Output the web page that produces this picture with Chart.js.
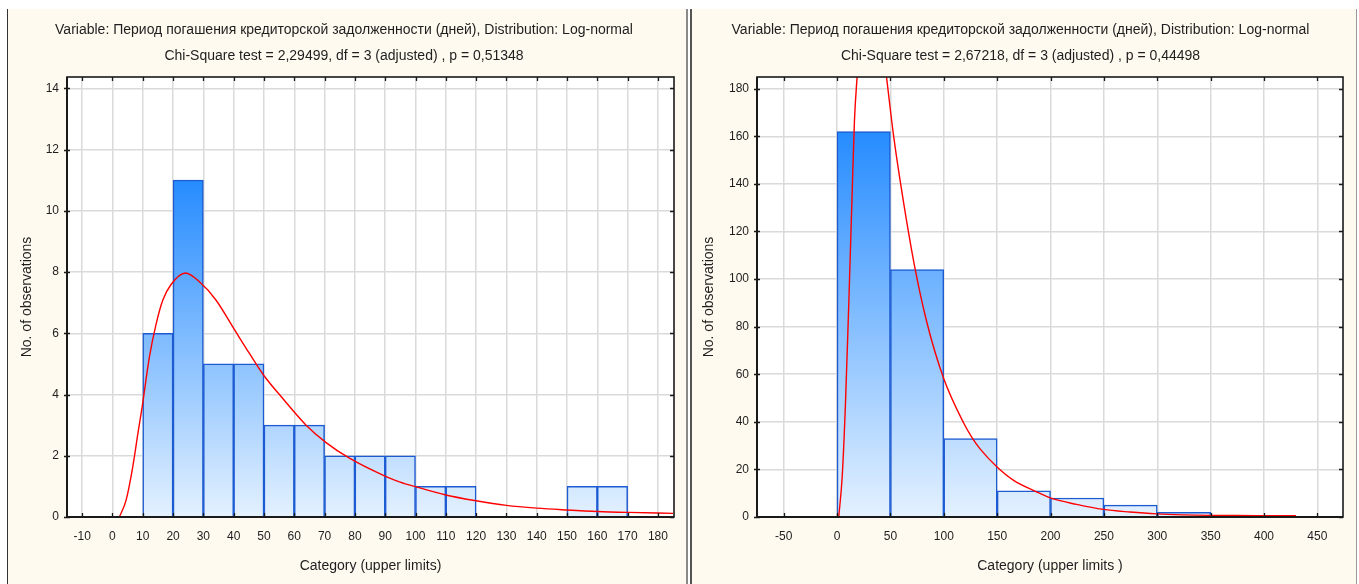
<!DOCTYPE html>
<html><head><meta charset="utf-8">
<script src="https://cdn.jsdelivr.net/npm/chart.js@4.4.1/dist/chart.umd.min.js"></script>
<style>
body{margin:0;background:#fff;width:1359px;height:584px;overflow:hidden;position:relative;font-family:'Liberation Sans',Arial,sans-serif}
.panel{position:absolute;top:9px;height:575px;background:#fffaf0;box-sizing:border-box}
#p1{left:7px;width:681px;border-left:1px solid #333;border-right:2px solid #8a8a8a}
#p2{left:690px;width:667px;border-left:2px solid #555;border-right:1px solid #999}
canvas{display:block}
</style></head><body>
<div class="panel" id="p1"><canvas id="c1" width="678" height="575"></canvas></div>
<div class="panel" id="p2"><canvas id="c2" width="664" height="575"></canvas></div>
<script>
// ---------- data: left chart ----------
const leftTitle = ["Variable: Период погашения кредиторской задолженности (дней), Distribution: Log-normal",
                   "Chi-Square test = 2,29499, df = 3 (adjusted) , p = 0,51348"];
const leftBinUpper = [10,20,30,40,50,60,70,80,90,100,110,120,130,140,150,160,170];
const leftBinWidth = 10;
const leftCounts   = [0,6,11,5,5,3,3,2,2,2,1,1,0,0,0,1,1];
const leftCurveX = [2.3,4.5,6.7,8.4,9.8,12.2,14.4,16.6,19.4,24.1,28.7,34.2,39.7,45.2,49.9,56.2,63.9,70.5,78.2,90.3,94.7,100,110,120,130,140,150,160,170,185];
const leftCurveY = [0,0.55,1.64,2.73,3.6,5.23,6.3,7.08,7.6,7.97,7.68,7.08,6.21,5.34,4.63,3.87,3.0,2.43,1.92,1.32,1.15,0.99,0.72,0.53,0.38,0.29,0.23,0.18,0.15,0.12];
const leftXRange = [-15, 185.3];
const leftYRange = [0, 14.37];
const leftXTicks = [-10,0,10,20,30,40,50,60,70,80,90,100,110,120,130,140,150,160,170,180];
const leftYTicks = [0,2,4,6,8,10,12,14];

// ---------- data: right chart ----------
const rightTitle = ["Variable: Период погашения кредиторской задолженности (дней), Distribution: Log-normal",
                    "Chi-Square test = 2,67218, df = 3 (adjusted) , p = 0,44498"];
const rightBinUpper = [50,100,150,200,250,300,350,400];
const rightBinWidth = 50;
const rightCounts   = [162,104,33,11,8,5,2,0];
const rightCurveX = [1.6,4.8,7.9,11,14.2,16.3,18.8,24,30,38,46.3,53.1,62.5,73.4,84.4,99.9,118.6,126.3,134.2,149.9,165.4,187.3,199.7,224.5,249.4,274.3,299.3,324.2,349.2,374,399,430];
const rightCurveY = [0,16.8,47.8,89.8,137,166.6,185,215,225,215,185,159.7,131.7,103.6,81.3,58.2,39.5,33.5,28.5,21,15.4,10.5,8,5.3,3.2,2.1,1.3,0.9,0.7,0.6,0.55,0.5];
const rightXRange = [-75, 474];
const rightYRange = [0, 184.9];
const rightXTicks = [-50,0,50,100,150,200,250,300,350,400,450];
const rightYTicks = [0,20,40,60,80,100,120,140,160,180];

const yTitle = "No. of observations";
const xTitleLeft = "Category (upper limits)";
const xTitleRight = "Category (upper limits )";

const FONT = "'Liberation Sans', Arial, sans-serif";
const TXT = '#1e1e1e';

const framePlugin = {
  id: 'frame',
  beforeDraw(chart) {
    const {ctx, chartArea: a} = chart;
    ctx.save(); ctx.fillStyle = '#ffffff';
    ctx.fillRect(a.left, a.top, a.width, a.height); ctx.restore();
  },
  afterDatasetsDraw(chart) {
    const {ctx, chartArea: a, scales} = chart;
    ctx.save();
    ctx.strokeStyle = '#1a1a1a';
    ctx.lineWidth = 1.3;
    scales.x.ticks.forEach(t => {
      const px = Math.round(scales.x.getPixelForValue(t.value)) + 0.5;
      ctx.beginPath(); ctx.moveTo(px, a.bottom); ctx.lineTo(px, a.bottom - 4);
      ctx.moveTo(px, a.top); ctx.lineTo(px, a.top + 4); ctx.stroke();
    });
    scales.y.ticks.forEach(t => {
      const py = Math.round(scales.y.getPixelForValue(t.value)) + 0.5;
      ctx.beginPath(); ctx.moveTo(a.left - 3, py); ctx.lineTo(a.left + 3, py);
      ctx.moveTo(a.right, py); ctx.lineTo(a.right - 4, py); ctx.stroke();
    });
    ctx.lineWidth = 1.6;
    ctx.strokeRect(a.left, a.top, a.width, a.height);
    ctx.lineWidth = 2;
    ctx.beginPath(); ctx.moveTo(a.left, a.top); ctx.lineTo(a.left, a.bottom); ctx.lineTo(a.right, a.bottom); ctx.stroke();
    ctx.restore();
  }
};

function makeChart(id, cfg) {
  const font = {family: FONT, size: 12, weight: 'normal'};
  const bigFont = {family: FONT, size: 14, weight: 'normal'};
  const maxCount = Math.max(...cfg.counts);
  const bars = cfg.binUpper.map((u, i) => ({x: u - cfg.binWidth / 2, y: cfg.counts[i] > 0 ? cfg.counts[i] : null}));
  const curve = cfg.curveX.map((x, i) => ({x, y: cfg.curveY[i]}));
  return new Chart(document.getElementById(id), {
    type: 'bar',
    data: {
      datasets: [
        {
          type: 'line', data: curve, order: 0,
          borderColor: '#ff0000', borderWidth: 1.4, pointRadius: 0,
          cubicInterpolationMode: 'monotone', fill: false
        },
        {
          type: 'bar', data: bars, order: 1,
          barPercentage: 1, categoryPercentage: 1, grouped: false,
          borderColor: '#1c5bd2', borderWidth: 1.5, borderSkipped: 'bottom',
          backgroundColor: (c) => {
            const ch = c.chart; const {chartArea, scales} = ch;
            if (!chartArea) return '#8cc4ff';
            const y0 = scales.y.getPixelForValue(0);
            const y1 = scales.y.getPixelForValue(maxCount);
            const g = ch.ctx.createLinearGradient(0, y0, 0, y1);
            g.addColorStop(0, '#e4f1ff');
            g.addColorStop(1, '#268cff');
            return g;
          }
        }
      ]
    },
    options: {
      responsive: false, animation: false,
      layout: {padding: {left: 6, right: cfg.padRight, top: 0, bottom: 6}},
      plugins: {
        legend: {display: false}, tooltip: {enabled: false},
        title: {display: true, text: cfg.title, color: TXT,
                font: {family: FONT, size: 14, weight: 'normal', lineHeight: '26px'},
                padding: {top: 8, bottom: 8}}
      },
      scales: {
        x: {
          type: 'linear', min: cfg.xRange[0], max: cfg.xRange[1], offset: false,
          grid: {color: '#dadada', lineWidth: 1.5, drawTicks: false, offset: false},
          border: {display: false},
          ticks: {padding: 12, color: TXT, font, maxRotation: 0, autoSkip: false},
          afterBuildTicks(s) { s.ticks = cfg.xTicks.map(v => ({value: v})); },
          title: {display: true, text: cfg.xTitle, color: TXT, font: bigFont, padding: {top: 0, bottom: 3.6}},
          afterFit(s) { s.height = 61; }
        },
        y: {
          type: 'linear', min: cfg.yRange[0], max: cfg.yRange[1],
          grid: {color: '#dadada', lineWidth: 1.5, drawTicks: false},
          border: {display: false},
          ticks: {padding: 8, color: TXT, font, autoSkip: false},
          afterBuildTicks(s) { s.ticks = cfg.yTicks.map(v => ({value: v})); },
          title: {display: true, text: yTitle, color: TXT, font: bigFont, padding: {top: cfg.yTitlePad, bottom: 0}},
          afterFit(s) { s.width = cfg.yWidth; }
        }
      }
    },
    plugins: [framePlugin]
  });
}

makeChart('c1', {title: leftTitle, binUpper: leftBinUpper, binWidth: leftBinWidth, counts: leftCounts,
  curveX: leftCurveX, curveY: leftCurveY, xRange: leftXRange, yRange: leftYRange, xTicks: leftXTicks, yTicks: leftYTicks,
  xTitle: xTitleLeft, padRight: 12, yWidth: 53, yTitlePad: 4.6});
makeChart('c2', {title: rightTitle, binUpper: rightBinUpper, binWidth: rightBinWidth, counts: rightCounts,
  curveX: rightCurveX, curveY: rightCurveY, xRange: rightXRange, yRange: rightYRange, xTicks: rightXTicks, yTicks: rightYTicks,
  xTitle: xTitleRight, padRight: 13, yWidth: 59, yTitlePad: 2.6});
</script>
</body></html>
